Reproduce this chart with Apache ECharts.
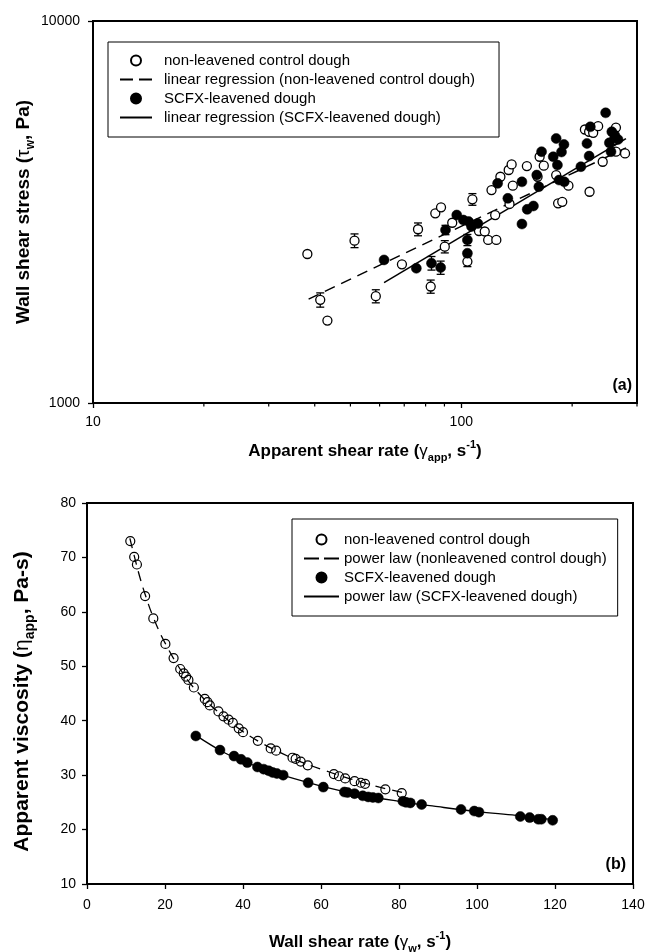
<!DOCTYPE html>
<html><head><meta charset="utf-8">
<script src="https://cdn.jsdelivr.net/npm/echarts@6/dist/echarts.min.js"></script>
<style>html,body{margin:0;padding:0;background:#fff}#c{width:646px;height:952px}</style>
</head><body><div id="c"></div>
<script>
// ---------- Panel (a): wall shear stress vs apparent shear rate (log-log) ----------
const openA = [
  [38.2,2455],[41.4,1862],[43.3,1644],[51.3,2661],[58.6,1904],[69.0,2307],[76.3,2850],
  [82.6,2018],[85.0,3137],[88.1,3252],[90.2,2566],[94.5,2964],[103.9,2345],[107.2,3413],
  [111.7,2820],[115.8,2812],[118.3,2672],[124.5,2672],[123.6,3105],[120.8,3610],[127.7,3911],
  [134.5,4073],[137.0,4213],[135.2,3319],[138.0,3705],[150.7,4170],[161.1,3911],[163.2,4412],
  [167.5,4180],[181.0,3951],[183.2,3332],[188.0,3363],[195.4,3705],[216.6,5200],[222.4,5130],
  [228.1,5097],[235.3,5305],[223.0,3573],[242.1,4281],[263.0,5260],[278.4,4500],[263.0,4548],
  [259.5,4873]
];
const openAErr = [
  [41.4,1862,80],[51.3,2661,110],[58.6,1904,75],[76.3,2850,110],[82.6,2018,80],
  [90.2,2566,95],[107.2,3413,120],[103.9,2345,70]
];
const filledA = [
  [61.7,2369],[75.5,2253],[83.0,2323],[87.9,2262],[90.6,2838],[97.2,3105],[101.3,3013],
  [104.7,2985],[106.6,2898],[110.9,2950],[103.9,2672],[103.9,2466],[125.5,3758],[133.8,3433],
  [146.1,3793],[146.1,2941],[151.0,3213],[157.0,3279],[160.3,3951],[162.4,3683],[165.2,4548],
  [177.7,4412],[181.0,4925],[182.4,4197],[184.3,3834],[187.1,4540],[190.0,4752],[190.4,3793],
  [211.2,4155],[219.4,4780],[222.4,4430],[224.1,5284],[246.6,5749],[256.3,5130],[261.0,5023],
  [255.0,4548],[266.4,4896],[252.4,4797]
];
const filledAErr = [
  [83.0,2323,95],[87.9,2262,90],[103.9,2672,90],[90.6,2838,80]
];
const regOpenA = [[38.5,1870],[280,4656]];
const regFilledA = [[61.7,2067],[280,4920]];
const minorTicksA = [20,30,40,50,60,70,80,90,200,300];

// ---------- Panel (b): apparent viscosity vs wall shear rate ----------
const openB = [
  [11.1,73.0],[12.1,70.1],[12.8,68.7],[14.9,62.9],[17.0,58.8],[20.1,54.1],[22.2,51.5],
  [23.9,49.5],[24.8,48.7],[25.4,48.1],[26.0,47.5],[27.4,46.1],[30.2,44.0],[30.9,43.4],
  [31.5,42.8],[33.7,41.7],[35.0,40.8],[36.3,40.2],[37.4,39.6],[38.9,38.6],[40.0,37.9],
  [43.8,36.3],[47.1,34.9],[48.5,34.5],[52.7,33.2],[53.5,33.0],[54.8,32.5],[56.6,31.8],
  [63.3,30.2],[64.6,29.8],[66.2,29.4],[68.6,28.9],[70.2,28.6],[71.3,28.4],[76.5,27.4],
  [80.7,26.7]
];
const filledB = [
  [27.9,37.2],[34.1,34.6],[37.7,33.5],[39.5,32.9],[41.1,32.3],[43.7,31.5],[45.3,31.1],
  [46.6,30.8],[47.6,30.5],[48.7,30.3],[50.3,30.0],[56.7,28.6],[60.6,27.8],[66.0,26.9],
  [66.8,26.8],[68.6,26.6],[70.7,26.2],[72.1,26.0],[73.3,25.9],[74.7,25.8],[81.0,25.2],
  [81.8,25.0],[82.9,24.9],[85.8,24.6],[95.9,23.7],[99.3,23.4],[100.5,23.2],[111.1,22.4],
  [113.5,22.2],[115.7,21.9],[116.5,21.9],[119.4,21.7]
];
const powOpenB = [
  [11,73.5],[12,70.6],[13.5,66.5],[15,63],[17,59],[20,54.3],[25,48.3],[30,44],[35,40.8],
  [40,38],[45,35.8],[50,34],[55,32.4],[60,31.1],[65,29.9],[70,28.8],[75,27.8],[81,26.8]
];
const powFilledB = [
  [27.9,37.3],[35,34.2],[40,32.6],[45,31.2],[50,30.0],[60,28.0],[70,26.4],[80,25.2],
  [90,24.2],[100,23.3],[110,22.6],[120,21.8]
];

const FONT = 'Liberation Sans, Arial, sans-serif';
const NAME_OPEN = 'non-leavened control dough';
const NAME_FILLED = 'SCFX-leavened dough';
const REG_OPEN = 'linear regression (non-leavened control dough)';
const REG_FILLED = 'linear regression (SCFX-leavened dough)';
const POW_OPEN = 'power law (nonleavened control dough)';
const POW_FILLED = 'power law (SCFX-leavened dough)';

function richName(size) {
  const lh = Math.round(size * 1.4);
  return {
    t: {fontFamily: FONT, fontSize: size, fontWeight: 'bold', color: '#000', lineHeight: lh},
    g: {fontFamily: FONT, fontSize: size, fontWeight: 'normal', color: '#000', lineHeight: lh},
    s: {fontFamily: FONT, fontSize: Math.round(size * 0.65), fontWeight: 'bold', color: '#000',
        lineHeight: Math.round(size * 0.65), verticalAlign: 'bottom'},
    p: {fontFamily: FONT, fontSize: Math.round(size * 0.65), fontWeight: 'bold', color: '#000',
        lineHeight: Math.round(size * 0.65), verticalAlign: 'top'}
  };
}

function errRender(params, api) {
  const x = api.value(0), y = api.value(1), e = api.value(2);
  const lo = api.coord([x, y - e]), hi = api.coord([x, y + e]);
  const w = 4;
  const st = {stroke: '#000', lineWidth: 1.3};
  return {type: 'group', children: [
    {type: 'line', shape: {x1: lo[0], y1: lo[1], x2: hi[0], y2: hi[1]}, style: st},
    {type: 'line', shape: {x1: lo[0] - w, y1: lo[1], x2: lo[0] + w, y2: lo[1]}, style: st},
    {type: 'line', shape: {x1: hi[0] - w, y1: hi[1], x2: hi[0] + w, y2: hi[1]}, style: st}
  ]};
}
function minorTickRender(params, api) {
  const p = api.coord([api.value(0), api.value(1)]);
  return {type: 'line', shape: {x1: p[0], y1: p[1], x2: p[0], y2: p[1] + 3.5},
    style: {stroke: '#000', lineWidth: 1.2}};
}

const axisCommon = {
  axisLine: {show: true, lineStyle: {color: '#000', width: 2}},
  axisTick: {show: true, inside: false, length: 5, lineStyle: {color: '#000', width: 1.3}},
  axisLabel: {color: '#000', fontFamily: FONT, fontSize: 14},
  splitLine: {show: false},
  nameLocation: 'middle',
  nameMoveOverlap: false
};
const hideSym = {opacity: 0};

const chart = echarts.init(document.getElementById('c'), null, {renderer: 'canvas'});
chart.setOption({
  backgroundColor: '#fff',
  animation: false,
  grid: [
    {left: 93, right: 9, top: 21, height: 382, show: true, borderColor: '#000', borderWidth: 2,
     containLabel: false, outerBoundsMode: 'none'},
    {left: 87, right: 13, top: 503, height: 381, show: true, borderColor: '#000', borderWidth: 2,
     containLabel: false, outerBoundsMode: 'none'}
  ],
  xAxis: [
    Object.assign({}, axisCommon, {
      gridIndex: 0, type: 'log', logBase: 10, min: 10, max: 300,
      axisLabel: Object.assign({}, axisCommon.axisLabel, {margin: 12, showMaxLabel: false,
        formatter: v => String(Math.round(v))}),
      name: '{t|Apparent shear rate (}{g|γ}{s|app}{t|, s}{p|-1}{t|)}',
      nameGap: 36, nameTextStyle: {rich: richName(17)}
    }),
    Object.assign({}, axisCommon, {
      gridIndex: 1, type: 'value', min: 0, max: 140, interval: 20,
      axisLabel: Object.assign({}, axisCommon.axisLabel, {margin: 14}),
      name: '{t|Wall shear rate (}{g|γ}{s|w}{t|, s}{p|-1}{t|)}',
      nameGap: 46, nameTextStyle: {rich: richName(17)}
    })
  ],
  yAxis: [
    Object.assign({}, axisCommon, {
      gridIndex: 0, type: 'log', logBase: 10, min: 1000, max: 10000,
      axisLabel: Object.assign({}, axisCommon.axisLabel, {margin: 13, formatter: v => String(Math.round(v))}),
      name: '{t|Wall shear stress (}{g|τ}{s|w}{t|, Pa)}',
      nameRotate: 90, nameGap: 56, nameTextStyle: {rich: richName(19)}
    }),
    Object.assign({}, axisCommon, {
      gridIndex: 1, type: 'value', min: 10, max: 80, interval: 10,
      axisLabel: Object.assign({}, axisCommon.axisLabel, {margin: 11}),
      name: '{t|Apparent viscosity (}{g|η}{s|app}{t|, Pa-s)}',
      nameRotate: 90, nameGap: 50, nameTextStyle: {rich: richName(21), padding: [0, 16, 0, 0]}
    })
  ],
  legend: [
    {orient: 'vertical', left: 108, top: 42, selectedMode: false,
     itemWidth: 32, itemHeight: 10, itemGap: 4,
     padding: [11, 24, 12, 11], borderColor: '#000', borderWidth: 1, backgroundColor: '#fff',
     textStyle: {fontFamily: FONT, fontSize: 15, color: '#000', padding: [0, 0, 0, 7]},
     data: [NAME_OPEN,
       {name: REG_OPEN, itemStyle: hideSym, lineStyle: {type: [13, 6]}},
       NAME_FILLED,
       {name: REG_FILLED, itemStyle: hideSym}]},
    {orient: 'vertical', left: 292, top: 519, selectedMode: false,
     itemWidth: 35, itemHeight: 10, itemGap: 4,
     padding: [13, 11, 12, 11], borderColor: '#000', borderWidth: 1, backgroundColor: '#fff',
     textStyle: {fontFamily: FONT, fontSize: 15, color: '#000'},
     data: [NAME_OPEN,
       {name: POW_OPEN, itemStyle: hideSym, lineStyle: {type: [15, 5]}},
       NAME_FILLED,
       {name: POW_FILLED, itemStyle: hideSym}]}
  ],
  graphic: [
    {type: 'text', right: 14, top: 378, style: {text: '(a)', font: 'bold 16px Liberation Sans, Arial', fill: '#000'}},
    {type: 'text', right: 20, top: 857, style: {text: '(b)', font: 'bold 16px Liberation Sans, Arial', fill: '#000'}}
  ],
  series: [
    // panel a
    {type: 'custom', name: 'minorTicksA', xAxisIndex: 0, yAxisIndex: 0, clip: false, silent: true,
     renderItem: minorTickRender, data: minorTicksA.map(v => [v, 1000]), encode: {x: 0, y: 1}, z: 5},
    {type: 'line', name: REG_OPEN, xAxisIndex: 0, yAxisIndex: 0, data: regOpenA, symbol: 'none',
     lineStyle: {color: '#000', width: 1.5, type: [11, 7]}, itemStyle: {color: '#000'}, z: 2},
    {type: 'line', name: REG_FILLED, xAxisIndex: 0, yAxisIndex: 0, data: regFilledA, symbol: 'none',
     lineStyle: {color: '#000', width: 1.5, type: 'solid'}, itemStyle: {color: '#000'}, z: 2},
    {type: 'custom', name: 'errOpenA', xAxisIndex: 0, yAxisIndex: 0, renderItem: errRender,
     data: openAErr, encode: {x: 0, y: 1}, z: 3},
    {type: 'custom', name: 'errFilledA', xAxisIndex: 0, yAxisIndex: 0, renderItem: errRender,
     data: filledAErr, encode: {x: 0, y: 1}, z: 3},
    {type: 'scatter', name: NAME_OPEN, xAxisIndex: 0, yAxisIndex: 0, data: openA, symbol: 'circle', symbolSize: 9,
     itemStyle: {color: '#fff', borderColor: '#000', borderWidth: 1.3, opacity: 1}, z: 4},
    {type: 'scatter', name: NAME_FILLED, xAxisIndex: 0, yAxisIndex: 0, data: filledA, symbol: 'circle', symbolSize: 10,
     itemStyle: {color: '#000', borderColor: '#000', borderWidth: 0.5, opacity: 1}, z: 4},
    // panel b
    {type: 'line', name: POW_OPEN, xAxisIndex: 1, yAxisIndex: 1, data: powOpenB, symbol: 'none', smooth: 0.4,
     lineStyle: {color: '#000', width: 1.3, type: [10, 7]}, itemStyle: {color: '#000'}, z: 2},
    {type: 'line', name: POW_FILLED, xAxisIndex: 1, yAxisIndex: 1, data: powFilledB, symbol: 'none', smooth: 0.4,
     lineStyle: {color: '#000', width: 1.3, type: 'solid'}, itemStyle: {color: '#000'}, z: 2},
    {type: 'scatter', name: NAME_OPEN, xAxisIndex: 1, yAxisIndex: 1, data: openB, symbol: 'circle', symbolSize: 9,
     itemStyle: {color: 'rgba(255,255,255,0)', borderColor: '#000', borderWidth: 1.2, opacity: 1}, z: 4},
    {type: 'scatter', name: NAME_FILLED, xAxisIndex: 1, yAxisIndex: 1, data: filledB, symbol: 'circle', symbolSize: 10,
     itemStyle: {color: '#000', borderColor: '#000', borderWidth: 0.5, opacity: 1}, z: 4}
  ]
});
</script>
</body></html>
